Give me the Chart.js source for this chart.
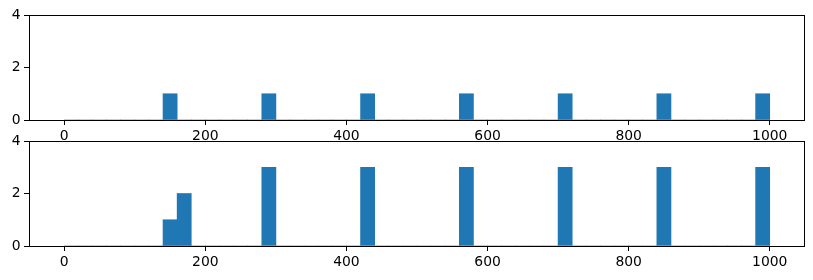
<!DOCTYPE html>
<html>
<head>
<meta charset="utf-8">
<script src="https://cdn.jsdelivr.net/npm/chart.js@4/dist/chart.umd.min.js"></script>
<style>
  html, body { margin: 0; padding: 0; background: #fff; }
  #wrap { position: relative; width: 813px; height: 280px; }
  canvas { position: absolute; left: 0; }
  #topChart { top: 0; }
  #bottomChart { top: 126px; }
</style>
</head>
<body>
<div id="wrap">
  <canvas id="topChart" width="813" height="150"></canvas>
  <canvas id="bottomChart" width="813" height="154"></canvas>
</div>
<script>
// histogram bins: 0..1000 in steps of 20
const binEdges = Array.from({ length: 51 }, (_, i) => i * 20);

// counts per bin (50 bins)
const topCounts = [
    0, 0, 0, 0, 0, 0, 0, 1, 0, 0,
    0, 0, 0, 0, 1, 0, 0, 0, 0, 0,
    0, 1, 0, 0, 0, 0, 0, 0, 1, 0,
    0, 0, 0, 0, 0, 1, 0, 0, 0, 0,
    0, 0, 1, 0, 0, 0, 0, 0, 0, 1
];
const bottomCounts = [
    0, 0, 0, 0, 0, 0, 0, 1, 2, 0,
    0, 0, 0, 0, 3, 0, 0, 0, 0, 0,
    0, 3, 0, 0, 0, 0, 0, 0, 3, 0,
    0, 0, 0, 0, 0, 3, 0, 0, 0, 0,
    0, 0, 3, 0, 0, 0, 0, 0, 0, 3
];

const xTicks = [0, 200, 400, 600, 800, 1000];
const yTicks = [0, 2, 4];

const barColor = '#1f77b4';
const tickFont = { family: "'DejaVu Sans', sans-serif", size: 13.9 };

// matplotlib-like box around the plot area
const frame = {
    id: 'frame',
    afterDatasetsDraw(chart) {
        const a = chart.chartArea;
        const ctx = chart.ctx;
        ctx.save();
        ctx.strokeStyle = '#000';
        ctx.lineWidth = 1;
        ctx.strokeRect(Math.round(a.left) + 0.5, Math.round(a.top) + 0.5,
            Math.round(a.right - a.left) - 1, Math.round(a.bottom - a.top));
        ctx.restore();
    }
};

function makeHist(id, counts, xHeight) {
    const points = counts.map((c, i) => ({ x: (binEdges[i] + binEdges[i + 1]) / 2, y: c }));
    new Chart(document.getElementById(id), {
        type: 'bar',
        data: {
            datasets: [{
                data: points,
                backgroundColor: barColor,
                borderWidth: 0,
                barPercentage: 1,
                categoryPercentage: 1
            }]
        },
        options: {
            responsive: false,
            animation: false,
            events: [],
            layout: { padding: { left: 0, right: 8, top: 15, bottom: 0 } },
            plugins: { legend: { display: false }, tooltip: { enabled: false } },
            scales: {
                x: {
                    type: 'linear',
                    min: -50,
                    max: 1050,
                    offset: false,
                    afterBuildTicks: s => { s.ticks = xTicks.map(v => ({ value: v })); },
                    afterFit: s => { s.height = xHeight; },
                    grid: { offset: false, drawOnChartArea: false, drawTicks: true, tickLength: 5, color: '#000' },
                    border: { display: false },
                    ticks: { color: '#000', font: tickFont, padding: 3, maxRotation: 0, callback: v => String(v) }
                },
                y: {
                    min: 0,
                    max: 4,
                    afterBuildTicks: s => { s.ticks = yTicks.map(v => ({ value: v })); },
                    afterFit: s => { s.width = 29; },
                    grid: { drawOnChartArea: false, drawTicks: true, tickLength: 5, color: '#000' },
                    border: { display: false },
                    ticks: { color: '#000', font: tickFont, padding: 3.5, callback: v => String(v) }
                }
            }
        },
        plugins: [frame]
    });
}

makeHist('topChart', topCounts, 30);
makeHist('bottomChart', bottomCounts, 34);
</script>
</body>
</html>
